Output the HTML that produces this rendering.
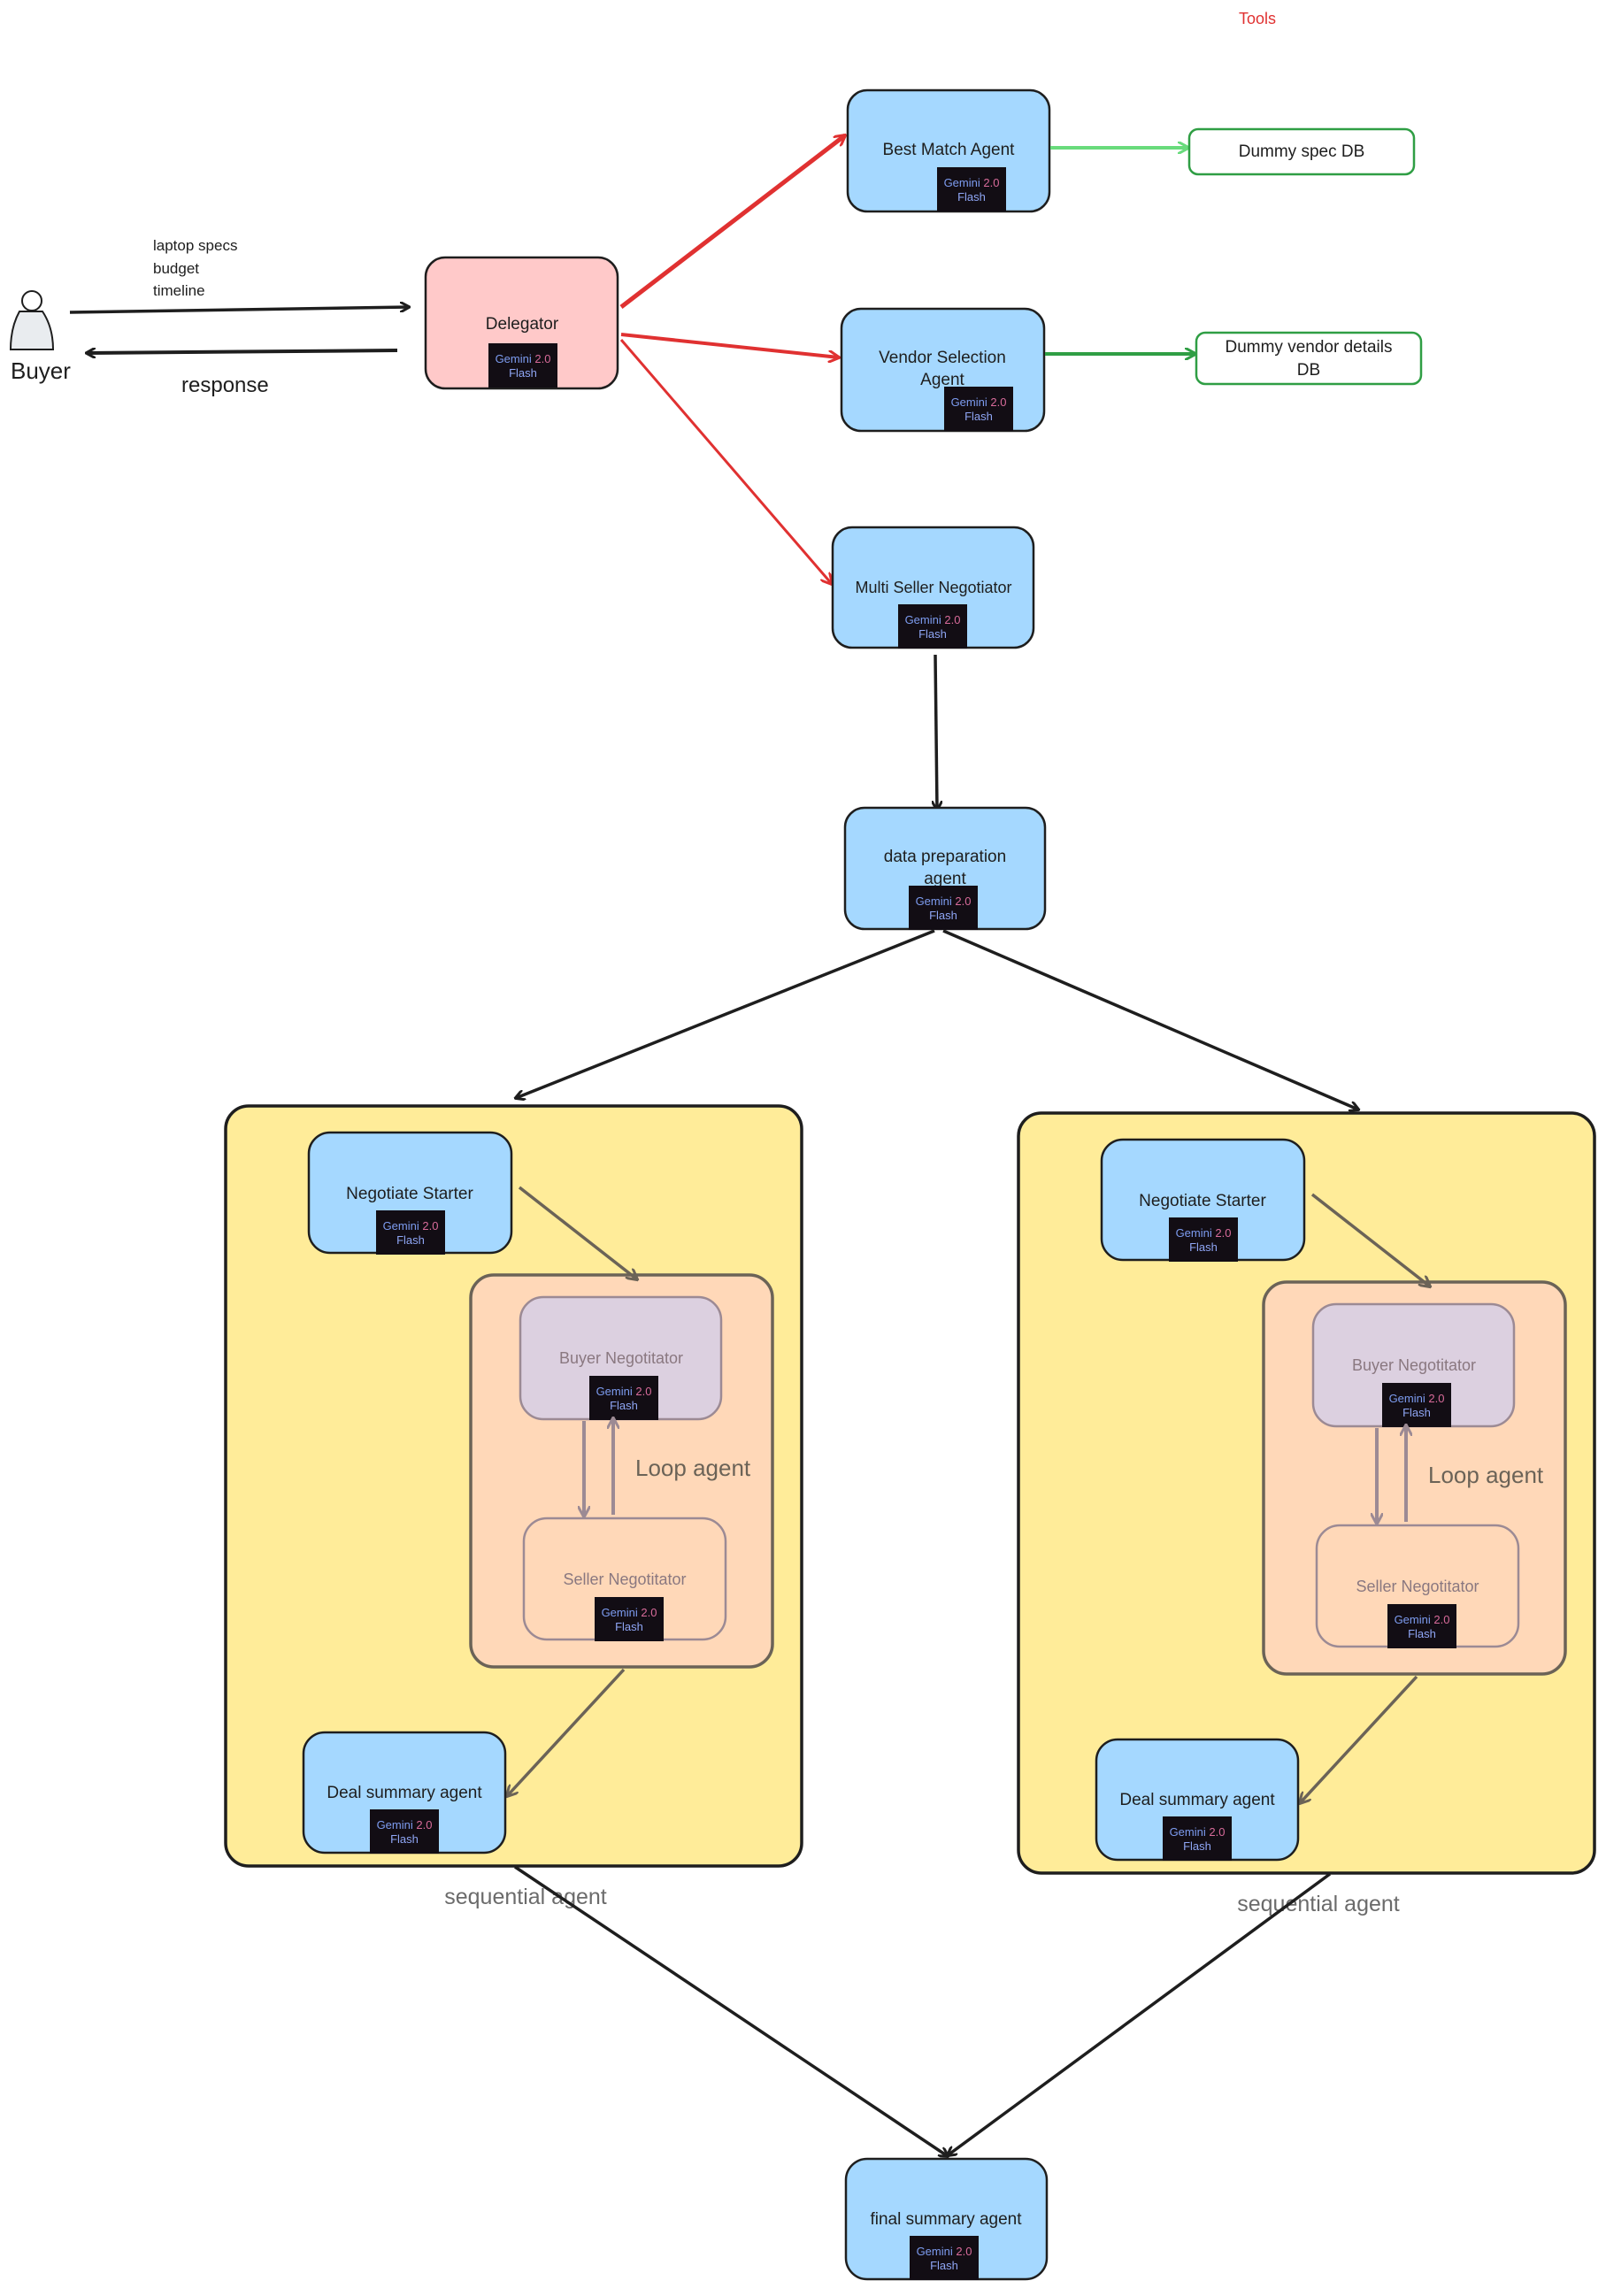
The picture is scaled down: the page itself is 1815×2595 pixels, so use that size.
<!DOCTYPE html>
<html><head><meta charset="utf-8"><style>
html,body{margin:0;padding:0;background:#fff;}
svg text{font-family:"Liberation Sans",sans-serif;}
</style></head><body>
<svg width="1815" height="2590" viewBox="0 0 1815 2590" xmlns="http://www.w3.org/2000/svg">
<defs>
<marker id="ak" markerWidth="12" markerHeight="12" refX="10" refY="6" orient="auto" markerUnits="userSpaceOnUse"><path d="M0,0 L11,6 L0,12" fill="none" stroke="#1e1e1e" stroke-width="3"/></marker>
<marker id="ar" markerWidth="14" markerHeight="14" refX="12" refY="7" orient="auto" markerUnits="userSpaceOnUse"><path d="M0,0 L13,7 L0,14" fill="none" stroke="#e03131" stroke-width="3"/></marker>
<marker id="ag" markerWidth="14" markerHeight="14" refX="12" refY="7" orient="auto" markerUnits="userSpaceOnUse"><path d="M0,0 L13,7 L0,14" fill="none" stroke="#2f9e44" stroke-width="3"/></marker>
<marker id="alg" markerWidth="14" markerHeight="14" refX="12" refY="7" orient="auto" markerUnits="userSpaceOnUse"><path d="M0,0 L13,7 L0,14" fill="none" stroke="#69db7c" stroke-width="3"/></marker>
<marker id="agr" markerWidth="14" markerHeight="14" refX="12" refY="7" orient="auto" markerUnits="userSpaceOnUse"><path d="M0,0 L13,7 L0,14" fill="none" stroke="#6b6357" stroke-width="3"/></marker>
<marker id="ap" markerWidth="14" markerHeight="14" refX="12" refY="7" orient="auto" markerUnits="userSpaceOnUse"><path d="M0,0 L13,7 L0,14" fill="none" stroke="#9c8a94" stroke-width="3"/></marker>
<g id="badge"><rect x="0" y="0" width="78" height="50" fill="#120d14"/><text x="39" y="22" font-size="13" text-anchor="middle" fill="#7d9cf0">Gemini <tspan fill="#d86b9a">2.0</tspan></text><text x="39" y="38" font-size="13" text-anchor="middle" fill="#8fa6f5">Flash</text></g>
</defs>

<text x="1400" y="27" font-size="18" fill="#e03131">Tools</text>

<!-- Buyer -->
<circle cx="36" cy="340" r="11" fill="#fff" stroke="#1e1e1e" stroke-width="2"/>
<path d="M22,352 Q12,370 12,395 L60,395 Q60,370 48,352 Z" fill="#e9ecef" stroke="#1e1e1e" stroke-width="2"/>
<text x="12" y="428" font-size="26" fill="#1e1e1e">Buyer</text>
<text x="173" y="283" font-size="17" fill="#1e1e1e">laptop specs</text>
<text x="173" y="309" font-size="17" fill="#1e1e1e">budget</text>
<text x="173" y="334" font-size="17" fill="#1e1e1e">timeline</text>
<text x="205" y="443" font-size="24" fill="#1e1e1e">response</text>
<line x1="79" y1="353" x2="462" y2="347" stroke="#1e1e1e" stroke-width="3.5" marker-end="url(#ak)"/>
<line x1="449" y1="396" x2="98" y2="399" stroke="#1e1e1e" stroke-width="4" marker-end="url(#ak)"/>

<!-- Delegator -->
<rect x="481" y="291" width="217" height="148" rx="22" fill="#ffc9c9" stroke="#1e1e1e" stroke-width="2.5"/>
<text x="590" y="372" font-size="19" text-anchor="middle" fill="#1e1e1e">Delegator</text>
<use href="#badge" x="552" y="388"/>

<!-- red arrows -->
<line x1="702" y1="347" x2="955" y2="153" stroke="#e03131" stroke-width="5" marker-end="url(#ar)"/>
<line x1="702" y1="378" x2="948" y2="404" stroke="#e03131" stroke-width="4" marker-end="url(#ar)"/>
<line x1="702" y1="384" x2="940" y2="660" stroke="#e03131" stroke-width="3" marker-end="url(#ar)"/>

<!-- Best match -->
<rect x="958" y="102" width="228" height="137" rx="22" fill="#a5d8ff" stroke="#1e1e1e" stroke-width="2.5"/>
<text x="1072" y="175" font-size="19" text-anchor="middle" fill="#1e1e1e">Best Match Agent</text>
<use href="#badge" x="1059" y="189"/>
<line x1="1187" y1="167" x2="1343" y2="167" stroke="#69db7c" stroke-width="4" marker-end="url(#alg)"/>
<rect x="1344" y="146" width="254" height="51" rx="10" fill="#fff" stroke="#2f9e44" stroke-width="2.5"/>
<text x="1471" y="177" font-size="19" text-anchor="middle" fill="#1e1e1e">Dummy spec DB</text>

<!-- Vendor -->
<rect x="951" y="349" width="229" height="138" rx="22" fill="#a5d8ff" stroke="#1e1e1e" stroke-width="2.5"/>
<text x="1065" y="410" font-size="19" text-anchor="middle" fill="#1e1e1e">Vendor Selection</text>
<text x="1065" y="435" font-size="19" text-anchor="middle" fill="#1e1e1e">Agent</text>
<use href="#badge" x="1067" y="437"/>
<line x1="1181" y1="400" x2="1351" y2="400" stroke="#2f9e44" stroke-width="4" marker-end="url(#ag)"/>
<rect x="1352" y="376" width="254" height="58" rx="10" fill="#fff" stroke="#2f9e44" stroke-width="2.5"/>
<text x="1479" y="398" font-size="19" text-anchor="middle" fill="#1e1e1e">Dummy vendor details</text>
<text x="1479" y="424" font-size="19" text-anchor="middle" fill="#1e1e1e">DB</text>

<!-- Multi seller -->
<rect x="941" y="596" width="227" height="136" rx="22" fill="#a5d8ff" stroke="#1e1e1e" stroke-width="2.5"/>
<text x="1055" y="670" font-size="18" text-anchor="middle" fill="#1e1e1e">Multi Seller Negotiator</text>
<use href="#badge" x="1015" y="683"/>
<line x1="1057" y1="740" x2="1059" y2="915" stroke="#1e1e1e" stroke-width="3.5" marker-end="url(#ak)"/>

<!-- data prep -->
<rect x="955" y="913" width="226" height="137" rx="22" fill="#a5d8ff" stroke="#1e1e1e" stroke-width="2.5"/>
<text x="1068" y="974" font-size="19" text-anchor="middle" fill="#1e1e1e">data preparation</text>
<text x="1068" y="999" font-size="19" text-anchor="middle" fill="#1e1e1e">agent</text>
<use href="#badge" x="1027" y="1001"/>
<line x1="1056" y1="1052" x2="583" y2="1241" stroke="#1e1e1e" stroke-width="3.5" marker-end="url(#ak)"/>
<line x1="1066" y1="1052" x2="1535" y2="1254" stroke="#1e1e1e" stroke-width="3.5" marker-end="url(#ak)"/>

<!-- LEFT sequential -->
<g id="seq">
<rect x="255" y="1250" width="651" height="859" rx="26" fill="#ffec99" stroke="#1e1e1e" stroke-width="3.5"/>
<rect x="349" y="1280" width="229" height="136" rx="24" fill="#a5d8ff" stroke="#1e1e1e" stroke-width="2.5"/>
<text x="463" y="1355" font-size="19" text-anchor="middle" fill="#1e1e1e">Negotiate Starter</text>
<use href="#badge" x="425" y="1368"/>
<rect x="532" y="1441" width="341" height="443" rx="26" fill="#ffd8b8" stroke="#6b6357" stroke-width="3.5"/>
<rect x="588" y="1466" width="227" height="138" rx="26" fill="#dcd0e0" stroke="#9c8a94" stroke-width="2.5"/>
<text x="702" y="1541" font-size="18" text-anchor="middle" fill="#8a7880">Buyer Negotitator</text>
<use href="#badge" x="666" y="1555"/>
<rect x="592" y="1716" width="228" height="137" rx="26" fill="#ffd8b8" stroke="#9c8a94" stroke-width="2.5"/>
<text x="706" y="1791" font-size="18" text-anchor="middle" fill="#8a7880">Seller Negotitator</text>
<use href="#badge" x="672" y="1805"/>
<line x1="660" y1="1606" x2="660" y2="1714" stroke="#9c8a94" stroke-width="4" marker-end="url(#ap)"/>
<line x1="693" y1="1712" x2="693" y2="1603" stroke="#9c8a94" stroke-width="4" marker-end="url(#ap)"/>
<text x="718" y="1668" font-size="26" fill="#6b6357">Loop agent</text>
<line x1="587" y1="1342" x2="720" y2="1446" stroke="#6b6357" stroke-width="3.5" marker-end="url(#agr)"/>
<line x1="705" y1="1887" x2="573" y2="2030" stroke="#6b6357" stroke-width="3.5" marker-end="url(#agr)"/>
<rect x="343" y="1958" width="228" height="136" rx="24" fill="#a5d8ff" stroke="#1e1e1e" stroke-width="2.5"/>
<text x="457" y="2032" font-size="19" text-anchor="middle" fill="#1e1e1e">Deal summary agent</text>
<use href="#badge" x="418" y="2045"/>
<text x="594" y="2152" font-size="25" text-anchor="middle" fill="#6b6b6b">sequential agent</text>
</g>
<use href="#seq" x="896" y="8"/>

<!-- bottom arrows -->
<line x1="582" y1="2110" x2="1071" y2="2437" stroke="#1e1e1e" stroke-width="3.5" marker-end="url(#ak)"/>
<line x1="1503" y1="2118" x2="1071" y2="2436" stroke="#1e1e1e" stroke-width="3.5" marker-end="url(#ak)"/>

<!-- final -->
<rect x="956" y="2440" width="227" height="136" rx="24" fill="#a5d8ff" stroke="#1e1e1e" stroke-width="2.5"/>
<text x="1069" y="2514" font-size="19" text-anchor="middle" fill="#1e1e1e">final summary agent</text>
<use href="#badge" x="1028" y="2527"/>
</svg>
</body></html>
